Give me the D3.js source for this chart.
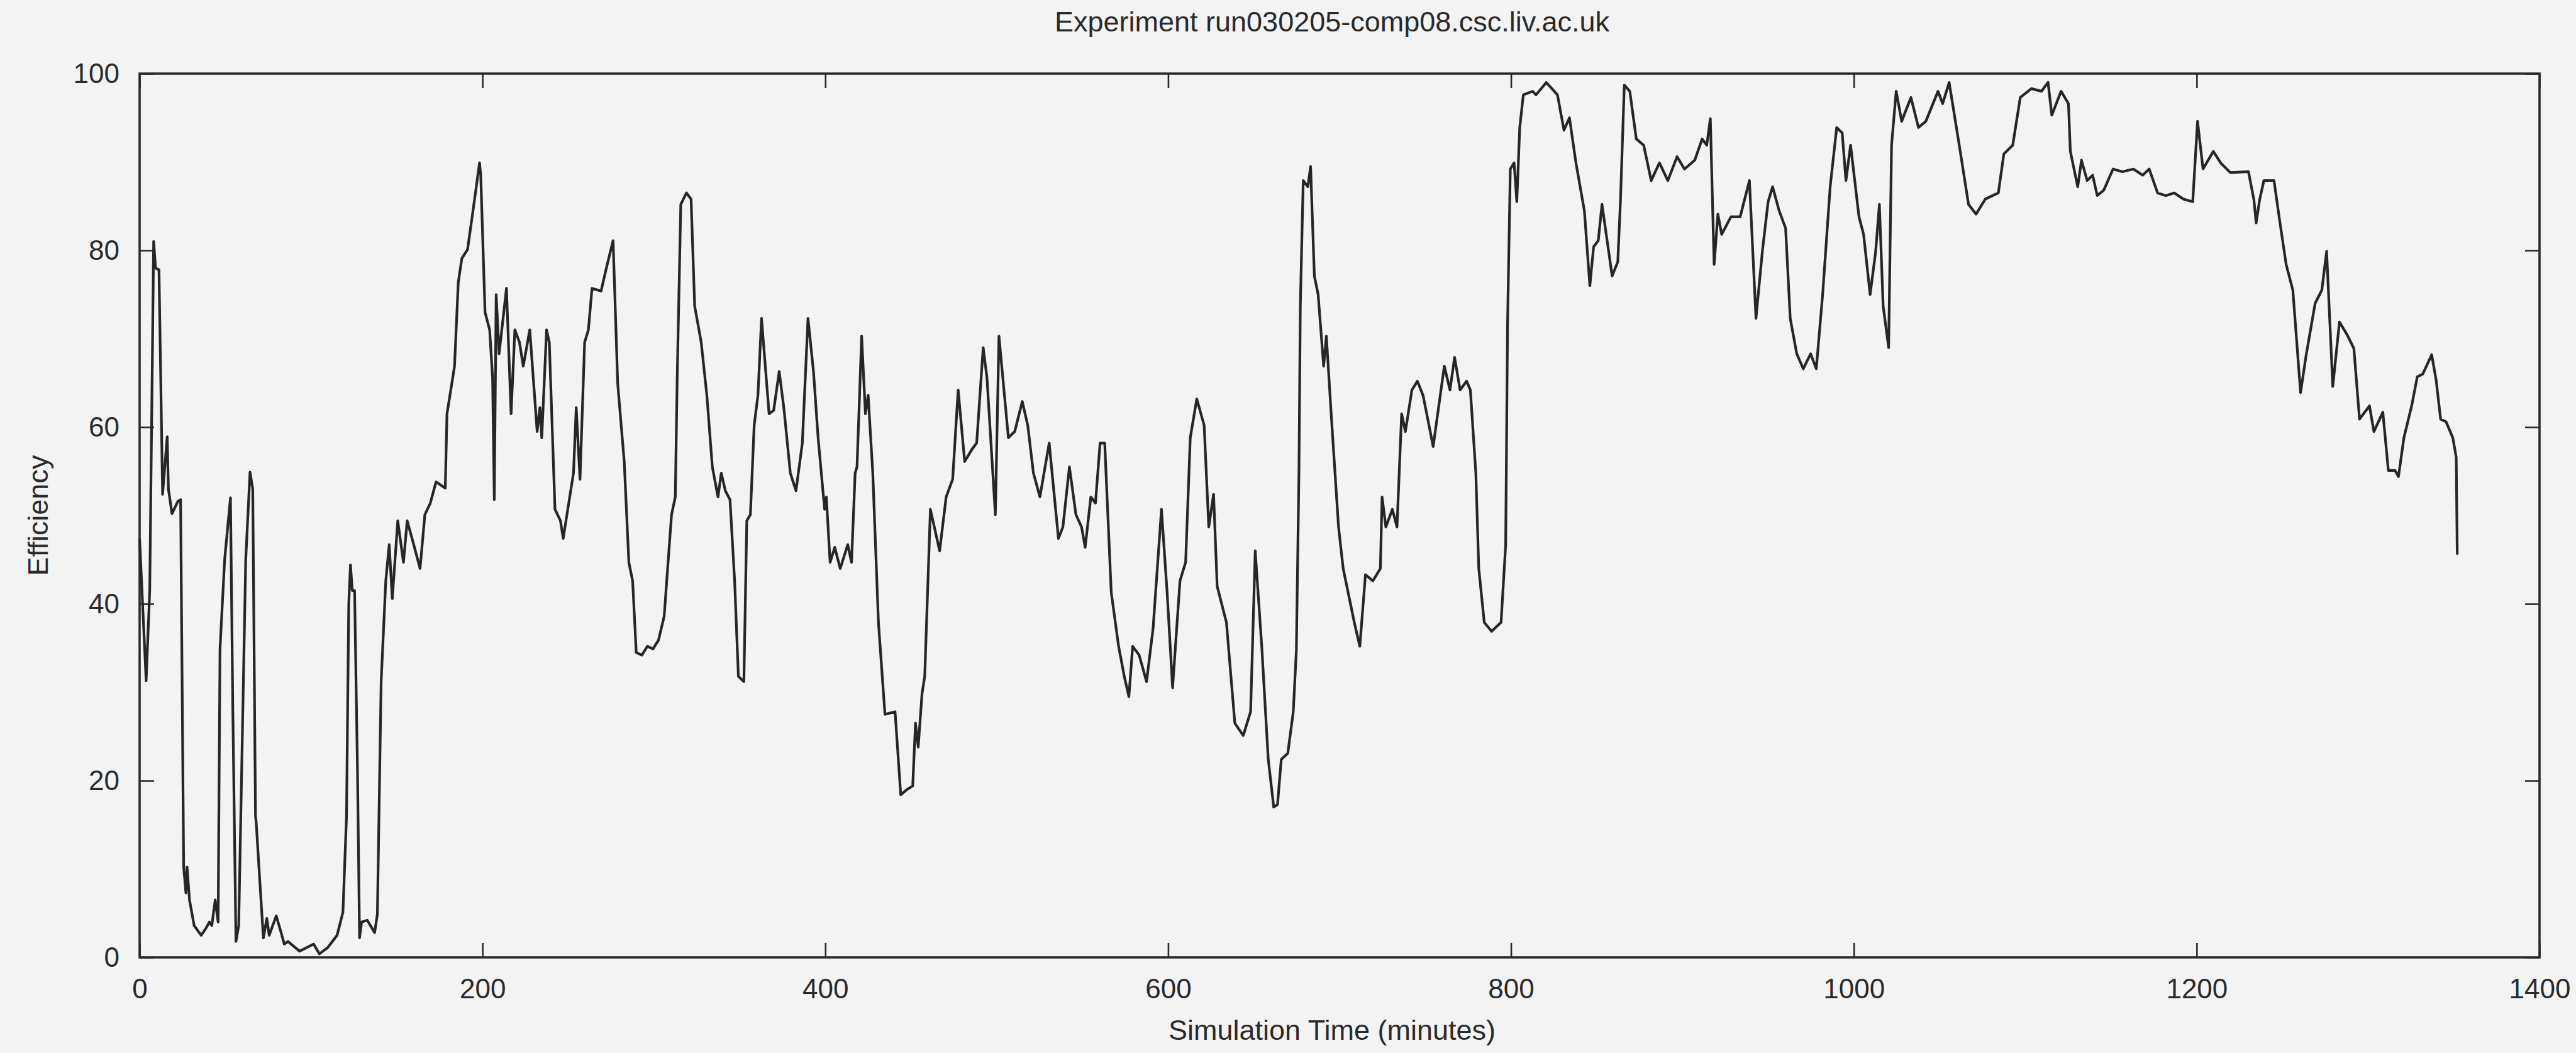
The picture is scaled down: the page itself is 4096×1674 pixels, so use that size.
<!DOCTYPE html>
<html>
<head>
<meta charset="utf-8">
<script src="https://cdn.jsdelivr.net/npm/d3@7"></script>
<style>
  html, body { margin: 0; padding: 0; background: #f3f3f3; }
  svg { display: block; font-family: "Liberation Sans", Arial, Helvetica, sans-serif; }
</style>
</head>
<body>
<svg id="chart" width="4096" height="1674"></svg>
<script>
// Efficiency trace of one simulation run (minutes vs. percent)
const simTime = [
  0, 3.8, 5.9, 8.2, 9.3, 11.3, 13.4, 16.1, 16.8, 18.9, 22.3, 23.9, 25.7, 27, 27.7, 29.1, 31.8, 35.9, 38.7, 40.7,
  42.1, 44.1, 45.8, 46.9, 49.6, 53, 54.4, 56.2, 57.8, 61.9, 64.4, 66, 67.6, 68, 70.1, 72.2, 74.2, 75.6, 79.7, 82.4,
  84.4, 86.5, 93.3, 101.5, 104.9, 109.7, 115.2, 118.6, 120.7, 122, 123, 124.1, 125.4, 127.1, 128.3, 129.5, 132.8, 137.1, 138.7, 140.9,
  143.6, 145.6, 147.4, 150.6, 153.9, 156.1, 159.9, 163.6, 166.4, 169.6, 172.9, 178.3, 179.3, 182.1, 183.7, 185.9, 188, 191.3, 194.5, 198.3,
  199, 201.5, 204.2, 205.9, 206.9, 208, 209.7, 214, 216.7, 218.9, 221.6, 223.8, 227.6, 231.9, 233.5, 234.6, 237.4, 239, 242.3, 245.5,
  247.1, 250.9, 253.1, 254.7, 256.9, 259.6, 261.8, 263.9, 269.2, 272.4, 276.2, 278.9, 282.7, 285.4, 287.6, 289.7, 293, 296.2, 299.5, 302.7,
  306, 310.3, 312.5, 313.6, 315.7, 319, 321.7, 323.8, 327.6, 330.9, 334.1, 337.4, 339.3, 341.7, 344.4, 347.1, 349.3, 352.5, 354.2, 356.3,
  358.5, 360.7, 362.8, 367.2, 369.9, 373.1, 375.8, 379.6, 382.9, 386.6, 389.9, 393.1, 395.8, 399.6, 400.6, 402.8, 405.5, 408.7, 413.1, 415.3,
  417.4, 418.5, 421.2, 423.4, 425, 427.7, 431, 434.8, 440.7, 444, 447.7, 451, 452.6, 454.2, 456.4, 458, 461.3, 466.7, 470.5, 474.3,
  477.5, 481.3, 485.6, 488.3, 492.1, 494.3, 499.2, 501.3, 506.8, 510.5, 514.9, 518.1, 521.4, 525.2, 530.6, 536, 538.6, 542.4, 546.2, 549.5,
  551.6, 554.9, 557.6, 560.3, 563, 566.8, 571.1, 574.4, 577.1, 579.3, 583.1, 587.4, 591.2, 596.1, 599.4, 602.6, 606.9, 610.2, 612.9, 616.7,
  621, 623.7, 626.5, 628.6, 634, 638.9, 643.8, 648.1, 650.8, 654.6, 658.4, 661.6, 663.8, 666, 669.8, 673, 674.8, 676.3, 677.1, 678.8,
  681.5, 683.1, 685.3, 687.5, 690.7, 692.3, 695.1, 699.4, 702.1, 708.6, 711.8, 715.1, 719.4, 723.8, 724.8, 727, 730.8, 733.5, 736.2, 738.4,
  742.2, 745.4, 748.7, 754.6, 761.1, 764.4, 767.1, 770.3, 774.1, 776.3, 779.5, 781.2, 784.4, 788.7, 794.2, 796.9, 798, 799.6, 801.8, 803.4,
  805.1, 807.2, 812.6, 814.6, 820.6, 827.1, 830.9, 834.1, 837.9, 842.8, 846, 848.2, 850.9, 853.1, 859, 862.3, 863.9, 866.1, 869.3, 873.1,
  877.4, 881.8, 886.6, 891.5, 896.9, 901.2, 907.2, 911.5, 914.2, 916.3, 918.5, 920.7, 922.9, 928.3, 933.7, 939.1, 942.9, 946.7, 950, 952.6,
  956.4, 960.2, 962.9, 966.7, 970.5, 974.8, 978.1, 981.8, 986.2, 990, 993.2, 995.4, 998.1, 1003, 1005.7, 1009.5, 1012.7, 1014.9, 1017.1, 1020.3,
  1022, 1024.7, 1027.9, 1033.3, 1037.7, 1042, 1049.1, 1051.8, 1055.6, 1061.5, 1066.9, 1071.3, 1076.7, 1084.3, 1087.5, 1092.7, 1097.1, 1103.6, 1109.5, 1113.3,
  1115.5, 1120.9, 1125.2, 1126.3, 1130.6, 1132.8, 1136.1, 1139.3, 1142, 1145.8, 1151.2, 1156.6, 1163.1, 1168.5, 1172.3, 1177.2, 1182, 1186.9, 1192.3, 1197.7,
  1200.5, 1203.7, 1209.7, 1214, 1219.6, 1230.2, 1233.4, 1234.7, 1236.7, 1239.2, 1245.1, 1248.3, 1252.2, 1256.1, 1260.6, 1263.9, 1269.1, 1273, 1275.8, 1279.4,
  1283.3, 1287.9, 1291.7, 1295, 1300.8, 1303.4, 1308.6, 1311.8, 1315.7, 1317.7, 1320.9, 1325.4, 1328.7, 1331.9, 1337.1, 1339.7, 1342.3, 1345.5, 1349.4, 1351.4,
  1352
];
const efficiency = [
  47.3, 31.3, 41.5, 81, 78, 77.8, 52.4, 58.9, 53, 50.2, 51.6, 51.8, 10.2, 7.3, 10.2, 6.5, 3.6, 2.5, 3.3, 4,
  3.6, 6.5, 4, 34.9, 45, 52, 27.6, 1.8, 3.6, 45, 54.9, 53, 16, 15.3, 8.7, 2.2, 4.4, 2.5, 4.7, 2.9,
  1.5, 1.8, 0.7, 1.5, 0.4, 1.1, 2.5, 5.1, 16, 40, 44.4, 41.5, 41.5, 21.1, 2.2, 4, 4.2, 2.8, 4.9, 31.2,
  42.6, 46.7, 40.6, 49.4, 44.7, 49.4, 46.7, 44, 50.1, 51.4, 53.8, 53.1, 61.5, 64.9, 66.9, 76.4, 79.1, 80.1, 84.5, 89.9,
  88.5, 73, 71, 65.6, 51.8, 75, 68.3, 75.7, 61.5, 71, 69.6, 66.9, 71, 59.5, 62.2, 58.8, 71, 69.6, 50.7, 49.4,
  47.4, 52.1, 54.8, 62.2, 54.1, 69.6, 71, 75.7, 75.4, 78.1, 81.1, 64.9, 56.1, 44.7, 42.6, 34.5, 34.2, 35.2, 34.9, 35.9,
  38.6, 50.1, 52.1, 65.6, 85.2, 86.5, 85.8, 73.7, 69.6, 63.6, 55.5, 52.1, 54.8, 52.8, 51.8, 42.6, 31.8, 31.2, 49.4, 50.1,
  60.2, 63.6, 72.3, 61.5, 61.9, 66.3, 62.2, 54.8, 52.8, 58.2, 72.3, 66.3, 58.8, 50.7, 52.1, 44.7, 46.4, 44, 46.7, 44.7,
  54.8, 55.5, 70.3, 61.5, 63.6, 54.8, 37.9, 27.5, 27.8, 18.4, 19, 19.4, 26.5, 23.8, 29.8, 31.8, 50.7, 46, 52.1, 54.1,
  64.2, 56.1, 57.5, 58.2, 69, 65.6, 50.1, 70.3, 58.8, 59.5, 62.9, 60.2, 54.8, 52.1, 58.2, 47.4, 48.7, 55.5, 50.1, 48.7,
  46.4, 52.1, 51.4, 58.2, 58.2, 41.3, 35.2, 31.8, 29.5, 35.2, 34.2, 31.2, 37.2, 50.7, 41.3, 30.5, 42.6, 44.7, 58.8, 63.2,
  60.2, 48.7, 52.4, 42, 37.9, 26.5, 25.1, 27.8, 46, 35.2, 22.4, 17, 17.3, 22.4, 23.1, 27.8, 34.8, 54.8, 73.7, 87.9,
  87.2, 89.5, 77.1, 75, 66.9, 70.3, 61.5, 48.7, 44, 37.9, 35.2, 43.3, 42.6, 44, 52.1, 48.7, 50.7, 48.7, 61.5, 59.5,
  64.2, 65.2, 63.6, 57.8, 66.9, 64.2, 67.9, 64.2, 65.2, 64.2, 54.8, 44, 37.9, 36.9, 37.9, 46.7, 71.7, 89.2, 89.9, 85.5,
  93.9, 97.6, 98, 97.6, 99, 97.6, 93.6, 95, 89.9, 84.5, 76, 80.4, 81.1, 85.2, 77.1, 78.7, 85.8, 98.7, 98, 92.6,
  91.9, 87.9, 89.9, 87.9, 90.6, 89.2, 90.2, 92.6, 91.9, 94.9, 78.4, 84.1, 81.8, 83.8, 83.8, 87.9, 72.3, 80, 85.5, 87.2,
  84.5, 82.5, 72.3, 68.3, 66.6, 68.3, 66.6, 75, 87.2, 93.9, 93.3, 87.9, 91.9, 83.8, 81.8, 75, 79.8, 85.2, 73.7, 69,
  91.9, 98, 94.6, 97.3, 93.9, 94.6, 98, 96.6, 99, 91.9, 85.2, 84.1, 85.8, 86.5, 90.9, 91.9, 97.3, 98.3, 98, 99,
  95.3, 98, 96.6, 91.2, 87.2, 90.2, 87.9, 88.5, 86.2, 86.8, 89.2, 88.9, 89.2, 88.5, 89.2, 86.5, 86.2, 86.5, 85.8, 85.5,
  94.6, 89.2, 91.2, 89.9, 88.8, 88.9, 85.7, 83.1, 85.7, 87.9, 87.9, 83.5, 78.4, 75.5, 63.9, 68.2, 74, 75.5, 79.9, 64.6,
  71.9, 70.4, 68.9, 60.9, 62.4, 59.5, 61.7, 55.1, 55.1, 54.4, 58.8, 62.4, 65.7, 66, 68.2, 65.3, 60.9, 60.6, 58.8, 56.6,
  45.7
];

const xTickValues = [0, 200, 400, 600, 800, 1000, 1200, 1400];
const yTickValues = [0, 20, 40, 60, 80, 100];
const titleText = "Experiment run030205-comp08.csc.liv.ac.uk";
const xLabelText = "Simulation Time (minutes)";
const yLabelText = "Efficiency";

const W = 4096, H = 1674;
const margin = { top: 117, right: 58, bottom: 152, left: 222 };
const ink = "#2a2a2a";
const tickLen = 23;

const svg = d3.select("#chart");

svg.append("rect").attr("width", W).attr("height", H).attr("fill", "#f3f3f3");

const x = d3.scaleLinear().domain([0, 1400]).range([margin.left, W - margin.right]);
const y = d3.scaleLinear().domain([0, 100]).range([H - margin.bottom, margin.top]);

function styleAxis(g) {
  g.select(".domain").remove();
  g.selectAll(".tick line").attr("stroke", ink).attr("stroke-width", 2.6);
  g.selectAll(".tick text")
    .attr("fill", ink)
    .attr("font-size", 44)
    .attr("font-family", '"Liberation Sans", Arial, Helvetica, sans-serif');
}

// bottom axis with labels, ticks pointing inward
svg.append("g")
  .attr("transform", `translate(0,${H - margin.bottom})`)
  .call(d3.axisBottom(x).tickValues(xTickValues).tickFormat(d3.format("d"))
    .tickSizeInner(-tickLen).tickSizeOuter(0).tickPadding(34))
  .call(styleAxis);

// mirrored top ticks
svg.append("g")
  .attr("transform", `translate(0,${margin.top})`)
  .call(d3.axisTop(x).tickValues(xTickValues).tickFormat("")
    .tickSizeInner(-tickLen).tickSizeOuter(0))
  .call(styleAxis);

// left axis with labels
svg.append("g")
  .attr("transform", `translate(${margin.left},0)`)
  .call(d3.axisLeft(y).tickValues(yTickValues).tickFormat(d3.format("d"))
    .tickSizeInner(-tickLen).tickSizeOuter(0).tickPadding(32))
  .call(styleAxis);

// mirrored right ticks
svg.append("g")
  .attr("transform", `translate(${W - margin.right},0)`)
  .call(d3.axisRight(y).tickValues(yTickValues).tickFormat("")
    .tickSizeInner(-tickLen).tickSizeOuter(0))
  .call(styleAxis);

// plot border
svg.append("rect")
  .attr("x", x(0)).attr("y", y(100))
  .attr("width", x(1400) - x(0)).attr("height", y(0) - y(100))
  .attr("fill", "none").attr("stroke", ink).attr("stroke-width", 3.6);

// efficiency trace
const line = d3.line()
  .x(i => x(simTime[i]))
  .y(i => y(efficiency[i]));

svg.append("path")
  .datum(d3.range(simTime.length))
  .attr("d", line)
  .attr("fill", "none")
  .attr("stroke", "#262626")
  .attr("stroke-width", 4.2)
  .attr("stroke-linejoin", "round")
  .attr("stroke-linecap", "round");

// title and axis labels
const textCenterX = 2118;
svg.append("text")
  .attr("x", textCenterX).attr("y", 50)
  .attr("text-anchor", "middle")
  .attr("font-size", 45).attr("fill", ink)
  .text(titleText);

svg.append("text")
  .attr("x", textCenterX).attr("y", 1653)
  .attr("text-anchor", "middle")
  .attr("font-size", 45).attr("fill", ink)
  .text(xLabelText);

svg.append("text")
  .attr("transform", `translate(76,${(y(0) + y(100)) / 2}) rotate(-90)`)
  .attr("text-anchor", "middle")
  .attr("font-size", 45).attr("fill", ink)
  .text(yLabelText);
</script>
</body>
</html>
